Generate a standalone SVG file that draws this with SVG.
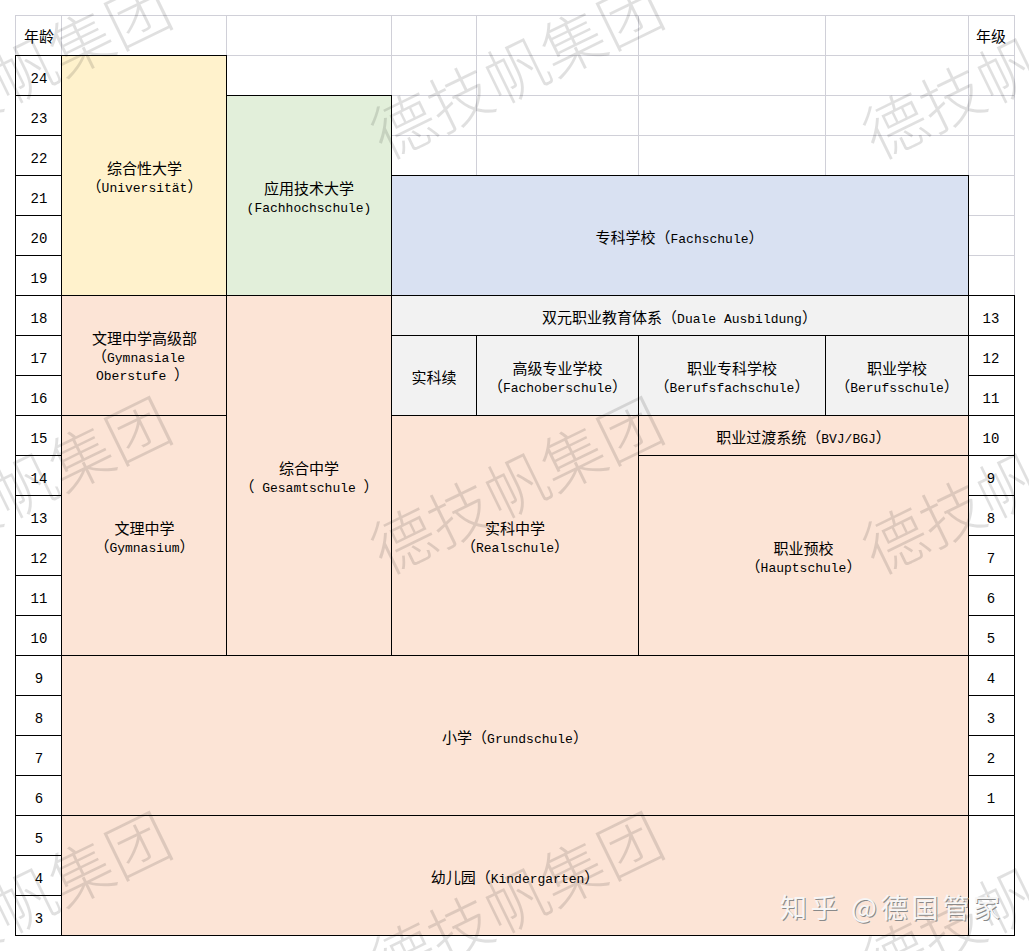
<svg xmlns="http://www.w3.org/2000/svg" width="1029" height="951" viewBox="0 0 1029 951">
<style>
.t{font-family:"Noto Sans CJK SC",sans-serif;font-size:15px;fill:#000;text-anchor:middle}
.s{text-anchor:start}
.m{font-family:"Liberation Mono",monospace;font-size:13px}
.n{font-family:"Liberation Mono",monospace;font-size:14px;fill:#000;text-anchor:middle}
.b{stroke:#000;stroke-width:1}
.w{fill:#fff}
.y{fill:#fff2cc}
.gr{fill:#e2efda}
.bl{fill:#d9e1f2}
.lg{fill:#f2f2f2}
.p{fill:#fce4d6}
.grid{stroke:#d0d0d8;stroke-width:1;fill:none}
.wm{font-family:"Noto Sans CJK SC",sans-serif;font-size:63px;font-weight:300;fill:#000;fill-opacity:0.12;text-anchor:middle;dominant-baseline:central}
</style>
<rect x="0" y="0" width="1029" height="951" fill="#fff"/>
<g id="gridlines">
<path class="grid" d="M15 15.5H1015M15 55.5H1015M15 95.5H1015M15 135.5H1015M15 175.5H1015M15 215.5H1015M15 255.5H1015M15.5 15V295M61.5 15V295M226.5 15V295M391.5 15V295M476.5 15V295M638.5 15V295M825.5 15V295M968.5 15V295M1014.5 15V295"/>
<text class="t" x="39" y="42">年龄</text>
<text class="t" x="991" y="42">年级</text>
</g>
<g id="age-axis">
<rect class="b w" x="15.5" y="55.5" width="46" height="40"/><text class="n" x="39" y="82.5">24</text>
<rect class="b w" x="15.5" y="95.5" width="46" height="40"/><text class="n" x="39" y="122.5">23</text>
<rect class="b w" x="15.5" y="135.5" width="46" height="40"/><text class="n" x="39" y="162.5">22</text>
<rect class="b w" x="15.5" y="175.5" width="46" height="40"/><text class="n" x="39" y="202.5">21</text>
<rect class="b w" x="15.5" y="215.5" width="46" height="40"/><text class="n" x="39" y="242.5">20</text>
<rect class="b w" x="15.5" y="255.5" width="46" height="40"/><text class="n" x="39" y="282.5">19</text>
<rect class="b w" x="15.5" y="295.5" width="46" height="40"/><text class="n" x="39" y="322.5">18</text>
<rect class="b w" x="15.5" y="335.5" width="46" height="40"/><text class="n" x="39" y="362.5">17</text>
<rect class="b w" x="15.5" y="375.5" width="46" height="40"/><text class="n" x="39" y="402.5">16</text>
<rect class="b w" x="15.5" y="415.5" width="46" height="40"/><text class="n" x="39" y="442.5">15</text>
<rect class="b w" x="15.5" y="455.5" width="46" height="40"/><text class="n" x="39" y="482.5">14</text>
<rect class="b w" x="15.5" y="495.5" width="46" height="40"/><text class="n" x="39" y="522.5">13</text>
<rect class="b w" x="15.5" y="535.5" width="46" height="40"/><text class="n" x="39" y="562.5">12</text>
<rect class="b w" x="15.5" y="575.5" width="46" height="40"/><text class="n" x="39" y="602.5">11</text>
<rect class="b w" x="15.5" y="615.5" width="46" height="40"/><text class="n" x="39" y="642.5">10</text>
<rect class="b w" x="15.5" y="655.5" width="46" height="40"/><text class="n" x="39" y="682.5">9</text>
<rect class="b w" x="15.5" y="695.5" width="46" height="40"/><text class="n" x="39" y="722.5">8</text>
<rect class="b w" x="15.5" y="735.5" width="46" height="40"/><text class="n" x="39" y="762.5">7</text>
<rect class="b w" x="15.5" y="775.5" width="46" height="40"/><text class="n" x="39" y="802.5">6</text>
<rect class="b w" x="15.5" y="815.5" width="46" height="40"/><text class="n" x="39" y="842.5">5</text>
<rect class="b w" x="15.5" y="855.5" width="46" height="40"/><text class="n" x="39" y="882.5">4</text>
<rect class="b w" x="15.5" y="895.5" width="46" height="40"/><text class="n" x="39" y="922.5">3</text>
</g>
<g id="grade-axis">
<rect class="b w" x="968.5" y="295.5" width="46" height="40"/><text class="n" x="991" y="322.5">13</text>
<rect class="b w" x="968.5" y="335.5" width="46" height="40"/><text class="n" x="991" y="362.5">12</text>
<rect class="b w" x="968.5" y="375.5" width="46" height="40"/><text class="n" x="991" y="402.5">11</text>
<rect class="b w" x="968.5" y="415.5" width="46" height="40"/><text class="n" x="991" y="442.5">10</text>
<rect class="b w" x="968.5" y="455.5" width="46" height="40"/><text class="n" x="991" y="482.5">9</text>
<rect class="b w" x="968.5" y="495.5" width="46" height="40"/><text class="n" x="991" y="522.5">8</text>
<rect class="b w" x="968.5" y="535.5" width="46" height="40"/><text class="n" x="991" y="562.5">7</text>
<rect class="b w" x="968.5" y="575.5" width="46" height="40"/><text class="n" x="991" y="602.5">6</text>
<rect class="b w" x="968.5" y="615.5" width="46" height="40"/><text class="n" x="991" y="642.5">5</text>
<rect class="b w" x="968.5" y="655.5" width="46" height="40"/><text class="n" x="991" y="682.5">4</text>
<rect class="b w" x="968.5" y="695.5" width="46" height="40"/><text class="n" x="991" y="722.5">3</text>
<rect class="b w" x="968.5" y="735.5" width="46" height="40"/><text class="n" x="991" y="762.5">2</text>
<rect class="b w" x="968.5" y="775.5" width="46" height="40"/><text class="n" x="991" y="802.5">1</text>
<rect class="b w" x="968.5" y="815.5" width="46" height="120"/>
</g>
<g id="universitaet">
<rect class="b y" x="61.5" y="55.5" width="165" height="240"/>
<text class="t" x="144.5" y="173.5">综合性大学</text>
<text class="t" x="144.5" y="191.5">（<tspan class="m">Universität</tspan>）</text>
</g>
<g id="fachhochschule">
<rect class="b gr" x="226.5" y="95.5" width="165" height="200"/>
<text class="t" x="309" y="193.5">应用技术大学</text>
<text class="t" x="309" y="211.5"><tspan class="m">(Fachhochschule)</tspan></text>
</g>
<g id="fachschule">
<rect class="b bl" x="391.5" y="175.5" width="577" height="120"/>
<text class="t" x="679.5" y="242.5">专科学校（<tspan class="m">Fachschule</tspan>）</text>
</g>
<g id="gymnasiale-oberstufe">
<rect class="b p" x="61.5" y="295.5" width="165" height="120"/>
<text class="t" x="144.5" y="344">文理中学高级部</text>
<text class="t s" x="92" y="362">（<tspan class="m">Gymnasiale</tspan></text>
<text class="t s" x="96" y="380"><tspan class="m">Oberstufe </tspan>）</text>
</g>
<g id="gymnasium">
<rect class="b p" x="61.5" y="415.5" width="165" height="240"/>
<text class="t" x="144.5" y="533.5">文理中学</text>
<text class="t" x="144.5" y="551.5">（<tspan class="m">Gymnasium</tspan>）</text>
</g>
<g id="gesamtschule">
<rect class="b p" x="226.5" y="295.5" width="165" height="360"/>
<text class="t" x="309" y="473.5">综合中学</text>
<text class="t" x="309" y="491.5">（<tspan class="m"> Gesamtschule </tspan>）</text>
</g>
<g id="duale-ausbildung">
<rect class="b lg" x="391.5" y="295.5" width="577" height="40"/>
<text class="t" x="679.5" y="322.5">双元职业教育体系（<tspan class="m">Duale Ausbildung</tspan>）</text>
</g>
<g id="shikexu">
<rect class="b lg" x="391.5" y="335.5" width="85" height="80"/>
<text class="t" x="434" y="382.5">实科续</text>
</g>
<g id="fachoberschule">
<rect class="b lg" x="476.5" y="335.5" width="162" height="80"/>
<text class="t" x="557.5" y="373.5">高级专业学校</text>
<text class="t" x="557.5" y="391.5">（<tspan class="m">Fachoberschule</tspan>）</text>
</g>
<g id="berufsfachschule">
<rect class="b lg" x="638.5" y="335.5" width="187" height="80"/>
<text class="t" x="732" y="373.5">职业专科学校</text>
<text class="t" x="732" y="391.5">（<tspan class="m">Berufsfachschule</tspan>）</text>
</g>
<g id="berufsschule">
<rect class="b lg" x="825.5" y="335.5" width="143" height="80"/>
<text class="t" x="897" y="373.5">职业学校</text>
<text class="t" x="897" y="391.5">（<tspan class="m">Berufsschule</tspan>）</text>
</g>
<g id="realschule">
<rect class="b p" x="391.5" y="415.5" width="247" height="240"/>
<text class="t" x="515" y="533.5">实科中学</text>
<text class="t" x="515" y="551.5">（<tspan class="m">Realschule</tspan>）</text>
</g>
<g id="bvj-bgj">
<rect class="b p" x="638.5" y="415.5" width="330" height="40"/>
<text class="t" x="803.5" y="442.5">职业过渡系统（<tspan class="m">BVJ/BGJ</tspan>）</text>
</g>
<g id="hauptschule">
<rect class="b p" x="638.5" y="455.5" width="330" height="200"/>
<text class="t" x="803.5" y="553.5">职业预校</text>
<text class="t" x="803.5" y="571.5">（<tspan class="m">Hauptschule</tspan>）</text>
</g>
<g id="grundschule">
<rect class="b p" x="61.5" y="655.5" width="907" height="160"/>
<text class="t" x="515" y="742.5">小学（<tspan class="m">Grundschule</tspan>）</text>
</g>
<g id="kindergarten">
<rect class="b p" x="61.5" y="815.5" width="907" height="120"/>
<text class="t" x="515" y="882.5">幼儿园（<tspan class="m">Kindergarten</tspan>）</text>
</g>
<g id="watermarks">
<text class="wm" transform="translate(23,67) rotate(-26)">德技帆集团</text>
<text class="wm" transform="translate(515,67) rotate(-26)">德技帆集团</text>
<text class="wm" transform="translate(1007,67) rotate(-26)">德技帆集团</text>
<text class="wm" transform="translate(23,482) rotate(-26)">德技帆集团</text>
<text class="wm" transform="translate(515,482) rotate(-26)">德技帆集团</text>
<text class="wm" transform="translate(1007,482) rotate(-26)">德技帆集团</text>
<text class="wm" transform="translate(23,897) rotate(-26)">德技帆集团</text>
<text class="wm" transform="translate(515,897) rotate(-26)">德技帆集团</text>
<text class="wm" transform="translate(1007,897) rotate(-26)">德技帆集团</text>
</g>
<g id="signature">
<text x="781" y="919" font-family="Noto Sans CJK SC, sans-serif" font-size="27" fill="#8a8a8a" textLength="220" lengthAdjust="spacing">知乎 @德国管家</text>
<text x="780" y="918" font-family="Noto Sans CJK SC, sans-serif" font-size="27" fill="#f6f6f6" textLength="220" lengthAdjust="spacing">知乎 @德国管家</text>
</g>
</svg>
